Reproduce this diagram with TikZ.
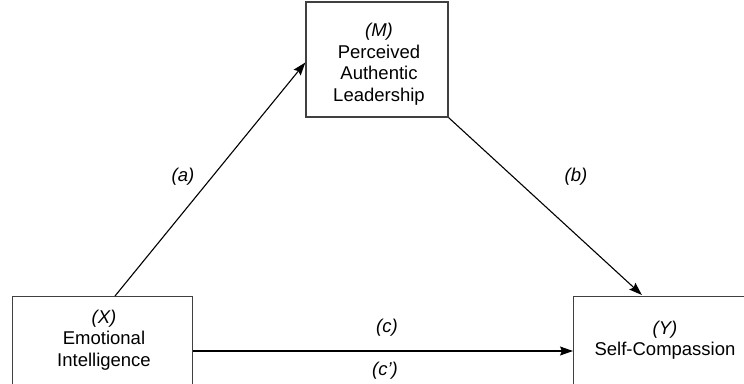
\documentclass[tikz,border=0pt]{standalone}
\usepackage{fontspec}
\setmainfont{Liberation Sans}
\usetikzlibrary{arrows.meta,positioning}
\tikzset{
  box/.style={draw=black!75,line width=1.3pt,inner sep=0pt},
  txt/.style={align=center,font=\fontsize{18.5}{21.5}\selectfont,inner sep=0pt},
  path/.style={draw=black,line width=1.1pt,-{Stealth[length=13pt,width=9pt,inset=2pt]}},
  lbl/.style={font=\fontsize{18.5}{21.5}\selectfont\itshape,inner sep=0pt}
}
\begin{document}
\begin{tikzpicture}[x=1pt,y=-1pt]
\useasboundingbox (0,0) rectangle (744,383);
\clip (0,0) rectangle (744,383);
% boxes
\node[box,minimum width=142pt,minimum height=115pt] (M) at (377,59.5) {};
\node[box,anchor=north west,minimum width=180pt,minimum height=130pt] (X) at (12,296) {};
\node[box,anchor=north west,minimum width=220pt,minimum height=130pt] (Y) at (573,296) {};
% box texts
\node[txt] (Mtxt) at (379,64) {\textit{(M)}\\Perceived\\Authentic\\Leadership};
\node[txt] (Xtxt) at (104,340) {\textit{(X)}\\Emotional\\Intelligence};
\node[txt] (Ytxt) at (665,340) {\textit{(Y)}\\Self-Compassion};
% paths
\draw[path] ([xshift=103pt]X.north west) -- ([yshift=-3pt]M.west);
\draw[path,shorten >=1.5pt] (M.south east) -- ([xshift=70pt]Y.north west);
\draw[path] ([yshift=-55pt]X.north east) -- ([yshift=-55pt]Y.north west);
% labels
\node[lbl] (a) at (183,177) {(a)};
\node[lbl] (b) at (576,177) {(b)};
\node[lbl] (c) at (387,328) {(c)};
\node[lbl] (cp) at (385,371) {(c’)};
\end{tikzpicture}
\end{document}
